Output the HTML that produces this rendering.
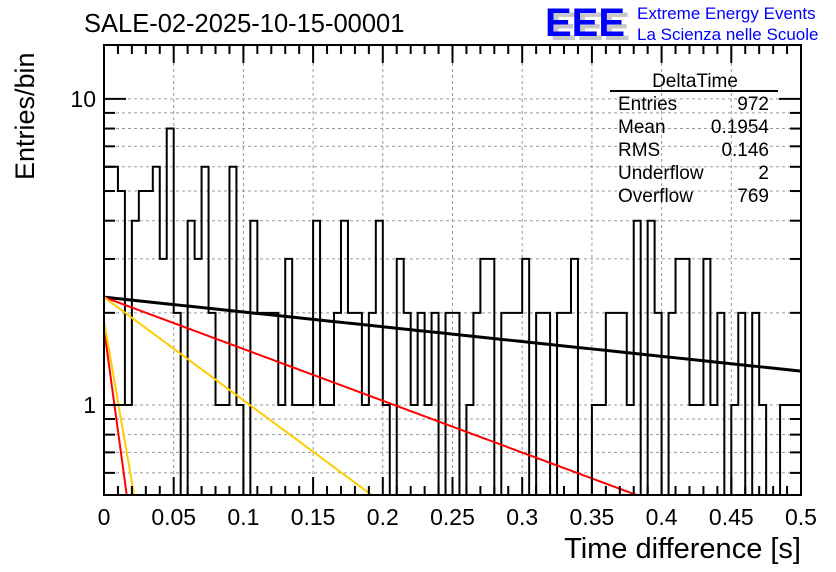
<!DOCTYPE html>
<html><head><meta charset="utf-8"><style>
body{margin:0;background:#fff;}
svg{display:block;font-family:"Liberation Sans",sans-serif;}
</style></head><body>
<svg id="chart" width="836" height="572" viewBox="0 0 836 572" xmlns="http://www.w3.org/2000/svg">
<rect width="836" height="572" fill="#fff"/>
<text x="84" y="32" font-size="25.5">SALE-02-2025-10-15-00001</text>
<g>
<text x="550" y="40" font-size="40" font-weight="bold" fill="#c8c8c8">EEE</text>
<text x="545" y="36" font-size="40" font-weight="bold" fill="#0000ff">EEE</text>
<text x="637" y="19" font-size="17" fill="#0000ff">Extreme Energy Events</text>
<text x="637" y="40" font-size="17" fill="#0000ff">La Scienza nelle Scuole</text>
</g>
<g id="grid"></g>
<g id="marks"></g>
<g id="axes"></g>
<g font-size="19">
<text x="695" y="87" text-anchor="middle">DeltaTime</text>
<line x1="610" y1="91" x2="778" y2="91" stroke="#000" stroke-width="2"/>
<text x="618" y="110">Entries</text><text x="769" y="110" text-anchor="end">972</text>
<text x="618" y="133">Mean</text><text x="769" y="133" text-anchor="end">0.1954</text>
<text x="618" y="156">RMS</text><text x="769" y="156" text-anchor="end">0.146</text>
<text x="618" y="179">Underflow</text><text x="769" y="179" text-anchor="end">2</text>
<text x="618" y="202">Overflow</text><text x="769" y="202" text-anchor="end">769</text>
</g>
<text transform="translate(34,180) rotate(-90)" font-size="27">Entries/bin</text>
<text x="801" y="558" font-size="29" text-anchor="end">Time difference [s]</text>
</svg>
<script>
const binCounts = [6,6,5,1,4,5,5,6,3,8,2,0,4,3,6,2,1,1,6,1,0,4,2,2,2,1,3,1,1,1,4,1,1,2,4,2,2,1,2,4,1,0,3,2,1,2,1,2,0,2,2,0,1,2,3,3,0,2,2,2,3,0,2,2,0,2,2,3,0,0,1,1,2,2,2,1,4,0,4,2,0,2,3,3,1,1,3,1,2,0,1,2,0,2,1,0,0,1,1,1];
const binWidth = [0.005];
const xTickLabels = ["0","0.05","0.1","0.15","0.2","0.25","0.3","0.35","0.4","0.45","0.5"];
const yTickLabels = ["1","10"];
const fitAmp = [2.25, 2.25, 2.25, 1.78, 1.88];
const fitEnd = [0.5, 0.382, 0.192, 0.0163, 0.0216];
const fitEndVal = [1.29, 0.508, 0.508, 0.508, 0.508];
const fitColor = ["#000","#ff0000","#ffcc00","#ff0000","#ffcc00"];

const L=104,R=801,T=45,B=495,XMIN=0,XMAX=0.5,YMIN=0.508,YMAX=15;
const NS="http://www.w3.org/2000/svg";
function sx(v){return L+(v-XMIN)/(XMAX-XMIN)*(R-L);}
function sy(v){if(v<=0)return B;const y=B-(Math.log10(v)-Math.log10(YMIN))/(Math.log10(YMAX)-Math.log10(YMIN))*(B-T);return Math.max(T,Math.min(B,y));}
function mk(tag,attrs,parent){const e=document.createElementNS(NS,tag);for(const k in attrs)e.setAttribute(k,attrs[k]);parent.appendChild(e);return e;}
const grid=document.getElementById('grid'),marks=document.getElementById('marks'),axes=document.getElementById('axes');

xTickLabels.forEach((t,i)=>{const x=sx(parseFloat(t));if(i>0&&i<xTickLabels.length-1){const g=mk('line',{x1:x,y1:T,x2:x,y2:B,stroke:'#999','stroke-dasharray':'3,3','stroke-width':1},grid);

}});
const yMinor=[0.6,0.7,0.8,0.9,1,2,3,4,5,6,7,8,9,10];
yMinor.forEach(v=>{const y=sy(v);const g=mk('line',{x1:L,y1:y,x2:R,y2:y,stroke:'#999','stroke-dasharray':'3,3','stroke-width':1},grid);

});

let d='';const bw=binWidth[0];
binCounts.forEach((c,i)=>{const x0=sx(i*bw),x1=sx((i+1)*bw),y=sy(c);d+=(i===0?`M${x0},${B}L${x0},${y}`:`L${x0},${y}`)+`L${x1},${y}`;});
d+=`L${sx(binCounts.length*bw)},${B}`;
const h=mk('path',{d:d,fill:'none',stroke:'#000','stroke-width':2},marks);



const clip=mk('clipPath',{id:'pc'},document.getElementById('chart'));mk('rect',{x:L,y:T,width:R-L,height:B-T},clip);
fitAmp.forEach((a,k)=>{const lam=Math.log(a/fitEndVal[k])/fitEnd[k];let pts=[];const xe=Math.min(0.5,fitEnd[k]*1.05);for(let j=0;j<=200;j++){const x=xe*j/200;pts.push(sx(x)+','+sy(a*Math.exp(-lam*x)));}
const p=mk('polyline',{points:pts.join(' '),fill:'none',stroke:fitColor[k],'stroke-width':k===0?3:2,'clip-path':'url(#pc)'},marks);

});

const f=mk('rect',{x:L,y:T,width:R-L,height:B-T,fill:'none',stroke:'#000','stroke-width':2},axes);


for(let i=0;i<=50;i++){const x=sx(i*0.01);const len=(i%5===0)?18:9;
mk('line',{x1:x,y1:B,x2:x,y2:B-len,stroke:'#000','stroke-width':2},axes);mk('line',{x1:x,y1:T,x2:x,y2:T+len,stroke:'#000','stroke-width':2},axes);}
xTickLabels.forEach(t=>{const tx=mk('text',{x:sx(parseFloat(t)),y:525,'font-size':23,'text-anchor':'middle'},axes);tx.textContent=t;

});
yMinor.forEach(v=>{const y=sy(v);const len=(v===1||v===10)?22:11;
mk('line',{x1:L,y1:y,x2:L+len,y2:y,stroke:'#000','stroke-width':2},axes);mk('line',{x1:R,y1:y,x2:R-len,y2:y,stroke:'#000','stroke-width':2},axes);});
yTickLabels.forEach(t=>{const tx=mk('text',{x:96,y:sy(parseFloat(t))+8,'font-size':23,'text-anchor':'end'},axes);tx.textContent=t;

});
</script>
</body></html>
